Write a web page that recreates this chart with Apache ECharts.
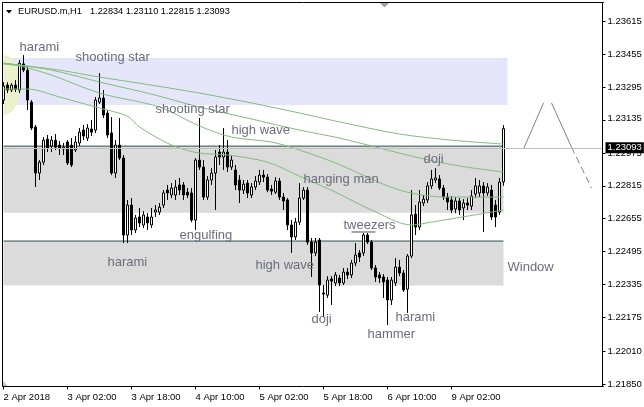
<!DOCTYPE html>
<html><head><meta charset="utf-8">
<script src="https://cdn.jsdelivr.net/npm/echarts@6/dist/echarts.min.js"></script>
<style>html,body{margin:0;padding:0;background:#fff}#c{width:644px;height:407px}</style>
</head><body><div id="c"></div>
<script>
const symbolName = 'EURUSD.m,H1';
const xTickLabels = ['2 Apr 2018','3 Apr 02:00','3 Apr 18:00','4 Apr 10:00','5 Apr 02:00','5 Apr 18:00','6 Apr 10:00','9 Apr 02:00'];
const yTickValues = [1.21850,1.22010,1.22175,1.22335,1.22495,1.22655,1.22815,1.22975,1.23135,1.23295,1.23455,1.23615];
const yMin = 1.21838, yMax = 1.23707;
const slotCount = 151;
// [open, close, low, high]
const ohlc = [
[1.23232,1.23300,1.23213,1.23319],[1.23305,1.23281,1.23266,1.23319],[1.23281,1.23305,1.23271,1.23314],[1.23305,1.23285,1.23271,1.23329],
[1.23281,1.23412,1.23266,1.23427],[1.23408,1.23378,1.23368,1.23451],[1.23378,1.23232,1.23184,1.23398],[1.23222,1.23096,1.23086,1.23232],
[1.23101,1.22877,1.22809,1.23111],[1.22877,1.22930,1.22843,1.22940],[1.22930,1.23037,1.22916,1.23052],[1.23042,1.22999,1.22979,1.23062],
[1.23008,1.23037,1.22979,1.23057],[1.23037,1.23003,1.22989,1.23067],[1.23013,1.22999,1.22965,1.23033],[1.22994,1.23003,1.22965,1.23023],
[1.23028,1.22926,1.22916,1.23037],[1.23013,1.22916,1.22906,1.23047],[1.22989,1.23028,1.22979,1.23057],[1.23023,1.23076,1.23008,1.23096],
[1.23086,1.23057,1.23037,1.23111],[1.23047,1.23096,1.23033,1.23115],[1.23091,1.23076,1.23057,1.23135],[1.23086,1.23232,1.23072,1.23247],
[1.23222,1.23242,1.23213,1.23363],[1.23242,1.23159,1.23145,1.23281],[1.23169,1.23062,1.23047,1.23184],[1.23072,1.22877,1.22867,1.23149],
[1.22877,1.23013,1.22853,1.23037],[1.23013,1.22950,1.22940,1.23145],[1.22950,1.22575,1.22536,1.22965],[1.22575,1.22721,1.22536,1.22746],
[1.22721,1.22600,1.22575,1.22755],[1.22600,1.22658,1.22585,1.22673],[1.22663,1.22634,1.22614,1.22707],[1.22624,1.22673,1.22609,1.22692],
[1.22663,1.22634,1.22600,1.22682],[1.22624,1.22663,1.22609,1.22707],[1.22687,1.22697,1.22663,1.22721],[1.22687,1.22711,1.22673,1.22731],
[1.22721,1.22780,1.22707,1.22794],[1.22794,1.22780,1.22746,1.22819],[1.22770,1.22804,1.22755,1.22828],[1.22770,1.22809,1.22746,1.22843],
[1.22819,1.22794,1.22770,1.22853],[1.22819,1.22770,1.22746,1.22833],[1.22784,1.22770,1.22755,1.22804],[1.22780,1.22648,1.22638,1.22804],
[1.22648,1.22940,1.22600,1.22950],[1.22940,1.22906,1.22892,1.23145],[1.22906,1.22760,1.22746,1.22940],[1.22760,1.22843,1.22746,1.22862],
[1.22843,1.22877,1.22819,1.22901],[1.22877,1.22955,1.22697,1.22989],[1.22979,1.22955,1.22916,1.23013],[1.22955,1.22979,1.22892,1.23096],
[1.22979,1.22906,1.22882,1.23037],[1.22906,1.22940,1.22892,1.22965],[1.22892,1.22819,1.22794,1.22916],[1.22843,1.22794,1.22731,1.22867],
[1.22794,1.22823,1.22775,1.22843],[1.22828,1.22780,1.22755,1.22843],[1.22770,1.22809,1.22755,1.22828],[1.22809,1.22838,1.22794,1.22862],
[1.22833,1.22867,1.22819,1.22892],[1.22867,1.22857,1.22833,1.22892],[1.22857,1.22794,1.22784,1.22872],[1.22799,1.22789,1.22770,1.22819],
[1.22784,1.22838,1.22775,1.22857],[1.22838,1.22760,1.22746,1.22853],[1.22760,1.22741,1.22697,1.22780],[1.22746,1.22624,1.22600,1.22755],
[1.22624,1.22566,1.22488,1.22648],[1.22566,1.22638,1.22551,1.22658],[1.22638,1.22755,1.22624,1.22828],[1.22755,1.22794,1.22746,1.22809],
[1.22794,1.22541,1.22527,1.22809],[1.22541,1.22488,1.22371,1.22561],[1.22488,1.22541,1.22473,1.22561],[1.22551,1.22332,1.22201,1.22561],
[1.22293,1.22288,1.22176,1.22332],[1.22283,1.22356,1.22269,1.22375],[1.22361,1.22351,1.22235,1.22375],[1.22342,1.22381,1.22327,1.22395],
[1.22366,1.22342,1.22327,1.22381],[1.22342,1.22395,1.22332,1.22415],[1.22395,1.22381,1.22361,1.22415],[1.22381,1.22439,1.22366,1.22454],
[1.22439,1.22478,1.22424,1.22536],[1.22488,1.22468,1.22444,1.22502],[1.22488,1.22575,1.22473,1.22585],[1.22575,1.22541,1.22532,1.22585],
[1.22541,1.22415,1.22405,1.22551],[1.22415,1.22371,1.22347,1.22429],[1.22381,1.22366,1.22342,1.22395],[1.22371,1.22347,1.22269,1.22385],
[1.22356,1.22259,1.22137,1.22371],[1.22259,1.22356,1.22235,1.22371],[1.22342,1.22419,1.22327,1.22463],[1.22419,1.22390,1.22375,1.22454],
[1.22390,1.22308,1.22298,1.22405],[1.22312,1.22473,1.22196,1.22483],[1.22473,1.22673,1.22463,1.22794],[1.22677,1.22614,1.22575,1.22721],
[1.22614,1.22736,1.22600,1.22794],[1.22731,1.22750,1.22716,1.22770],[1.22746,1.22814,1.22731,1.22833],[1.22814,1.22848,1.22799,1.22892],
[1.22843,1.22853,1.22828,1.22901],[1.22848,1.22804,1.22794,1.22867],[1.22804,1.22760,1.22746,1.22819],[1.22760,1.22736,1.22697,1.22780],
[1.22746,1.22697,1.22682,1.22765],[1.22702,1.22741,1.22682,1.22760],[1.22741,1.22697,1.22673,1.22755],[1.22707,1.22731,1.22648,1.22750],
[1.22731,1.22721,1.22697,1.22755],[1.22716,1.22765,1.22697,1.22794],[1.22775,1.22814,1.22755,1.22853],[1.22780,1.22814,1.22760,1.22843],
[1.22814,1.22780,1.22590,1.22833],[1.22780,1.22809,1.22765,1.22828],[1.22794,1.22663,1.22648,1.22819],[1.22721,1.22663,1.22614,1.22746],
[1.22687,1.22833,1.22673,1.22853],[1.22834,1.23093,1.22815,1.23110]
];
// moving averages, [bar index, price]
const ma1 = [[0,1.23412],[14,1.23378],[24,1.23344],[37,1.23305],[49,1.23266],[62,1.23218],[74,1.23169],[83,1.23130],[99,1.23067],[112,1.23037],[125,1.23018]];
const ma2 = [[0,1.23412],[12,1.23378],[24,1.23320],[37,1.23261],[49,1.23198],[62,1.23140],[74,1.23086],[84,1.23047],[103,1.22955],[114,1.22911],[125,1.22882]];
const ma3 = [[0,1.23407],[4,1.23398],[12,1.23354],[24,1.23266],[39,1.23198],[49,1.23106],[57,1.23052],[67,1.23028],[74,1.22989],[83,1.22926],[99,1.22794],[111,1.22760],[125,1.22760]];
const ma4 = [[0,1.23286],[6,1.23286],[14,1.23247],[24,1.23193],[31,1.23154],[34,1.23101],[42,1.23013],[49,1.22974],[56,1.22965],[66,1.22930],[74,1.22862],[83,1.22784],[92,1.22697],[102,1.22624],[107,1.22638],[125,1.22697]];
// rectangles: [startBar, endBar, topPrice, bottomPrice]
const lavenderBox = [0, 126, 1.23437, 1.23208];
const grayBox1 = [0, 125, 1.23008, 1.22684];
const grayBox2 = [0, 125, 1.22546, 1.22329];
const trendLine1 = [[0,1.23008],[125,1.23008]];
const trendLine2 = [[0,1.22546],[125,1.22546]];
const tweezersLine = [[87,1.22590],[93,1.22590]];
const projUp = [[130,1.22994],[135,1.23218]];
const projDown = [[137,1.23218],[142,1.23003]];
const projDownDash = [[142,1.23003],[147,1.22804]];
// ellipse: [centerBar, centerPrice], half-width in bars, half-height in price
const ellipseCenter = [0, 1.23305];
const ellipseRxBars = 4.3, ellipseRy = 0.00147;
const annotations = [
 ['harami',4,1.23534],['shooting star',18,1.23485],['shooting star',38,1.23232],['high wave',57,1.23130],
 ['engulfing',44,1.22619],['harami',26,1.22488],['hanging man',75,1.22892],['tweezers',85,1.22668],
 ['high wave',63,1.22473],['doji',105,1.22989],['Window',126,1.22463],['doji',77,1.22206],
 ['hammer',91,1.22137],['harami',98,1.22220]
];

const mctx = document.createElement('canvas').getContext('2d');
function hasFont(name){
  mctx.font='20px monospace'; const w0=mctx.measureText('1.23615 EURUSD').width;
  mctx.font="20px '"+name+"', monospace"; return Math.abs(mctx.measureText('1.23615 EURUSD').width-w0)>0.5;
}
function fitSize(text, family, width){ mctx.font='20px '+family; return 20*width/mctx.measureText(text).width; }
const narrow = hasFont('Liberation Sans Narrow');
const AXF = narrow ? "'Liberation Sans Narrow', 'Liberation Sans', sans-serif" : "'Liberation Sans', sans-serif";
const AXS = narrow ? 11 : 9.5;
const TF = "'Liberation Sans', Arial, sans-serif";

const cats = []; for (let i=0;i<slotCount;i++) cats.push(String(i));
const last = ohlc[ohlc.length-1];
const showTick = (idx) => idx % 16 === 0 && (idx/16) < xTickLabels.length;

const chart = echarts.init(document.getElementById('c'), null, {renderer:'canvas'});
function box(b, color){ return [{xAxis:b[0], yAxis:b[2], itemStyle:{color}}, {xAxis:b[1], yAxis:b[3]}]; }
function simpleLine(data, color, z, type){
  return {type:'line', data, symbol:'none', silent:true, clip:false, z, animation:false,
    lineStyle:{color, width:1, type: type||'solid'}};
}
const option = {
  animation:false,
  grid:{left:3.5, right:40.5, top:2.5, bottom:20.5, containLabel:false, outerBoundsMode:'none'},
  xAxis:[
    {type:'category', data:cats, boundaryGap:false, position:'bottom', z:10,
     axisLine:{show:true, onZero:false, lineStyle:{color:'#000', width:1}},
     axisTick:{show:true, interval:showTick, length:3, lineStyle:{color:'#000'}},
     axisLabel:{show:true, interval:showTick, formatter:(v,idx)=> xTickLabels[idx/16]||'', align:'left', margin:5.5,
       color:'#000', fontSize:AXS, fontFamily:AXF},
     splitLine:{show:false}},
    {type:'category', data:cats, boundaryGap:false, position:'top', z:10,
     axisLine:{show:true, onZero:false, lineStyle:{color:'#000', width:1}},
     axisTick:{show:false}, axisLabel:{show:false}, splitLine:{show:false}}
  ],
  yAxis:[
    {type:'value', position:'right', min:yMin, max:yMax, offset:-1, z:10,
     axisLine:{show:true, onZero:false, lineStyle:{color:'#000', width:1}},
     axisTick:{show:true, length:3, customValues:yTickValues, lineStyle:{color:'#000'}},
     axisLabel:{show:true, customValues:yTickValues, margin:5,
       formatter:v=>{ const s = Number(v).toFixed(5); return Math.abs(v - last[1]) < 0.0006 ? '{up|'+s+'}' : s; },
       rich:{up:{padding:[0,0,4,0], fontSize:AXS, fontFamily:AXF, color:'#000'}},
       color:'#000', fontSize:AXS, fontFamily:AXF},
     splitLine:{show:false}},
    {type:'value', position:'left', min:yMin, max:yMax, offset:1, z:10,
     axisLine:{show:true, onZero:false, lineStyle:{color:'#000', width:1}},
     axisTick:{show:false}, axisLabel:{show:false}, splitLine:{show:false}}
  ],
  series:[
    {type:'line', data:[], z:1, silent:true,
     markArea:{silent:true, data:[box(lavenderBox,'#E6E6FA'), box(grayBox1,'#DBDBDB'), box(grayBox2,'#DBDBDB')]}},
    simpleLine(trendLine1,'#2F4F4F',2),
    simpleLine(trendLine2,'#2F4F4F',2),
    {type:'candlestick', data:ohlc, barWidth:2, z:3, clip:false, silent:true,
     itemStyle:{color:'#ffffff', color0:'#000000', borderColor:'#000000', borderColor0:'#000000', borderWidth:1}},
    Object.assign(simpleLine(ma1,'#80BD7A',4), {smooth:0.3}),
    Object.assign(simpleLine(ma2,'#80BD7A',4), {smooth:0.3}),
    Object.assign(simpleLine(ma3,'#80BD7A',4), {smooth:0.3}),
    Object.assign(simpleLine(ma4,'#80BD7A',4), {smooth:0.3}),
    simpleLine(tweezersLine,'#505050',4),
    simpleLine(projUp,'#808080',4),
    simpleLine(projDown,'#808080',4),
    simpleLine(projDownDash,'#808080',4,[7,4]),
    {type:'line', data:[], z:5, silent:true, clip:false,
     markLine:{silent:true, symbol:'none', animation:false,
       data:[{yAxis:last[1]}],
       lineStyle:{color:'#C0C0C0', width:1, type:'solid'},
       label:{show:true, position:'end', distance:2, formatter:last[1].toFixed(5), color:'#fff',
         backgroundColor:'#000', padding:[1,2,0,2], fontSize:AXS, fontFamily:AXF}}}
  ]
};
chart.setOption(option);

const toPx = (i, p) => chart.convertToPixel({xAxisIndex:0, yAxisIndex:0}, [i, p]);
const g = [];
// ellipse object (drawn behind the candles), left part outside the frame masked
const ec = toPx(ellipseCenter[0], ellipseCenter[1]);
const ex = toPx(ellipseCenter[0] + 1, ellipseCenter[1]);
const ey = toPx(ellipseCenter[0], ellipseCenter[1] + ellipseRy);
const erx = (ex[0] - ec[0]) * ellipseRxBars, ery = ec[1] - ey[1];
g.push({type:'ellipse', z:1.5, silent:true, shape:{cx:ec[0], cy:ec[1], rx:erx, ry:ery}, style:{fill:'#ECF0CC'}});
g.push({type:'rect', z:1.6, silent:true, shape:{x:0, y:ec[1]-ery-1, width:ec[0], height:2*ery+2}, style:{fill:'#fff'}});
// title
const titleNums = [last[0],last[3],last[2],last[1]].map(v=>v.toFixed(5)).join(' ');
const nameSize = fitSize(symbolName, TF, 64), numSize = fitSize(titleNums, TF, 140);
g.push({type:'polygon', z:20, shape:{points:[[6,10],[12,10],[9,13.5]]}, style:{fill:'#000'}});
g.push({type:'text', z:20, style:{text: symbolName, x:18, y:11.5, verticalAlign:'middle', align:'left', fill:'#000', font: nameSize.toFixed(2)+'px '+TF}});
g.push({type:'text', z:20, style:{text: titleNums, x:90, y:11.5, verticalAlign:'middle', align:'left', fill:'#000', font: numSize.toFixed(2)+'px '+TF}});
g.push({type:'polygon', z:20, shape:{points:[[380,3],[389,3],[384.5,7.5]]}, style:{fill:'#A0A0A0'}});
g.push({type:'polygon', z:20, shape:{points:[[3,381],[3,386],[8,386]]}, style:{fill:'#C8C8C8'}});
annotations.forEach(a=>{
  const p = toPx(a[1], a[2]);
  g.push({type:'text', z:15, style:{text:a[0], x:p[0], y:p[1]+2.5, align:'left', verticalAlign:'top',
    fill:'#6C6C7E', font:"13px 'Liberation Sans', Arial, sans-serif"}});
});
chart.setOption({graphic:g});
</script>
</body></html>
